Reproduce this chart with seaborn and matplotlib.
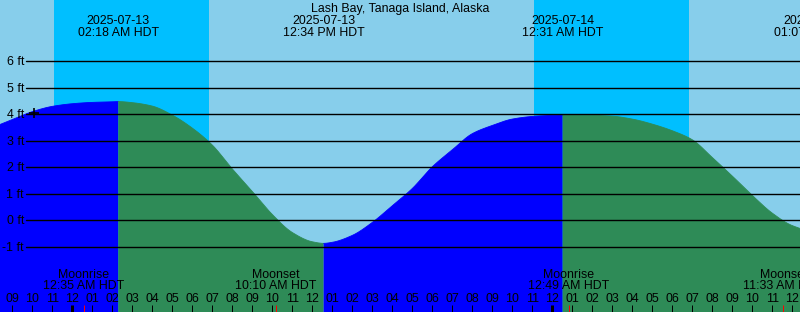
import numpy as np
import pandas as pd
import matplotlib
matplotlib.use("Agg")
import matplotlib.pyplot as plt
import matplotlib.transforms as mtransforms
import seaborn as sns

# ---------------- data (hours from 2025-07-13 00:00 HDT) ----------------
station = "Lash Bay, Tanaga Island, Alaska"

curve_hours = list(range(-4, 38))
curve_heights = [3.50, 3.80, 4.10, 4.30, 4.40, 4.45, 4.47, 4.44, 4.31, 3.97,
                 3.48, 2.84, 1.94, 1.09, 0.22, -0.46, -0.81, -0.83, -0.57, -0.08,
                 0.55, 1.20, 2.02, 2.66, 3.27, 3.58, 3.82, 3.92, 3.96, 3.97,
                 3.96, 3.93, 3.82, 3.63, 3.38, 3.04, 2.37, 1.67, 0.94, 0.27,
                 -0.20, -0.42]

extreme_hours = [2.30, 12.567, 24.517, 37.117]
extreme_heights = [4.48, -0.87, 3.97, -0.43]
extreme_types = ["high", "low", "high", "low"]
extreme_dates = ["2025-07-13", "2025-07-13", "2025-07-14", "2025-07-14"]
extreme_clock = ["02:18 AM HDT", "12:34 PM HDT", "12:31 AM HDT", "01:07 PM HDT"]

moon_hours = [0.583, 10.167, 24.817, 35.55]
moon_events = ["Moonrise", "Moonset", "Moonrise", "Moonset"]
moon_clock = ["12:35 AM HDT", "10:10 AM HDT", "12:49 AM HDT", "11:33 AM HDT"]

night_start = [-0.92, 23.08]
night_end = [6.83, 30.83]

now_hour = -1.92
now_height = 4.04

tick_hours = list(range(-3, 37))
tick_labels = [f"{(h % 12) or 12:02d}" for h in tick_hours]
ft_levels = [-1, 0, 1, 2, 3, 4, 5, 6]

# ---------------- style ----------------
sns.set_theme(style="white")
plt.rcParams["font.family"] = ["Liberation Sans", "DejaVu Sans"]
FS = 8.9

C_DAY = "#87CEEB"
C_NIGHT = "#00BFFF"
C_RISE = "#0000FF"
C_FALL = "#2E8B57"


def smooth_line(x, y, xn):
    """Monotone cubic (PCHIP-style) rendering of the read points."""
    x = np.asarray(x, float)
    y = np.asarray(y, float)
    h = np.diff(x)
    delta = np.diff(y) / h
    n = len(x)
    d = np.zeros(n)
    for k in range(1, n - 1):
        if delta[k - 1] * delta[k] > 0:
            w1 = 2 * h[k] + h[k - 1]
            w2 = h[k] + 2 * h[k - 1]
            d[k] = (w1 + w2) / (w1 / delta[k - 1] + w2 / delta[k])
    d[0] = delta[0]
    d[-1] = delta[-1]
    idx = np.clip(np.searchsorted(x, xn) - 1, 0, n - 2)
    hk = h[idx]
    s = (xn - x[idx]) / hk
    h00 = 2 * s**3 - 3 * s**2 + 1
    h10 = s**3 - 2 * s**2 + s
    h01 = -2 * s**3 + 3 * s**2
    h11 = s**3 - s**2
    return h00 * y[idx] + h10 * hk * d[idx] + h01 * y[idx + 1] + h11 * hk * d[idx + 1]


fig = plt.figure(figsize=(8.0, 3.12), dpi=100)
ax = fig.add_axes([0, 0, 1, 1])
ax.set_facecolor(C_DAY)
ax.set_axisbelow(False)
for s in ax.spines.values():
    s.set_visible(False)

XMIN, XMAX = -3.615, 36.385
YMIN, YMAX = -3.46, 8.313

# night bands
for a, b in zip(night_start, night_end):
    ax.axvspan(a, b, color=C_NIGHT, lw=0, zorder=0)

# read points merged with the listed extremes
pts = pd.DataFrame({"t": curve_hours + extreme_hours,
                    "h": curve_heights + extreme_heights})
pts = pts.sort_values("t").drop_duplicates("t").reset_index(drop=True)

bounds = [pts.t.min()] + extreme_hours
seg_frames = []
seg_colors = []
for i in range(len(bounds) - 1):
    a, b = bounds[i], bounds[i + 1]
    tt = np.linspace(a, b, 300)
    hh = smooth_line(pts.t, pts.h, tt)
    seg = pd.DataFrame({"t": tt, "h": hh, "seg": f"s{i}"})
    color = C_RISE if extreme_types[i] == "high" else C_FALL
    seg_frames.append(seg)
    seg_colors.append(color)
    ax.fill_between(seg.t, seg.h, YMIN - 5, color=color, lw=0, zorder=1)
df = pd.concat(seg_frames, ignore_index=True)
sns.lineplot(data=df, x="t", y="h", hue="seg", palette=seg_colors,
             legend=False, lw=0.6, ax=ax, zorder=1.5, sort=True,
             estimator=None)

# grid lines + labels
ytr = mtransforms.blended_transform_factory(ax.transAxes, ax.transData)
for v in ft_levels:
    ax.axhline(v, xmin=26 / 800, xmax=1, color="black", lw=1.0, zorder=3)
    ax.text(24 / 800, v - 0.14, f"{v} ft", transform=ytr,
            ha="right", va="baseline", fontsize=FS, color="black", zorder=4)

# current marker
ax.plot([now_hour], [now_height], marker="+", color="black", ms=7, mew=1.2,
        zorder=5, ls="none")

bt = mtransforms.blended_transform_factory(ax.transData, ax.transAxes)


def fy(px):
    return (312 - px) / 312


ax.text(0.5, fy(11.7), station, transform=ax.transAxes, ha="center",
        va="baseline", fontsize=FS, color="black")
for t, d, c in zip(extreme_hours, extreme_dates, extreme_clock):
    ax.text(t, fy(24.0), d, transform=bt, ha="center", va="baseline", fontsize=FS, color="black", zorder=4)
    ax.text(t, fy(36.0), c, transform=bt, ha="center", va="baseline", fontsize=FS, color="black", zorder=4)
for t, e, c in zip(moon_hours, moon_events, moon_clock):
    ax.text(t, fy(278.3), e, transform=bt, ha="center", va="baseline", fontsize=FS, color="black", zorder=4)
    ax.text(t, fy(289.3), c, transform=bt, ha="center", va="baseline", fontsize=FS, color="black", zorder=4)

# axis ticks
ax.set_xlim(XMIN, XMAX)
ax.set_ylim(YMIN, YMAX)
ax.set_yticks([])
ax.set_xticks(tick_hours, tick_labels)
ax.set_xticks(moon_hours, minor=True)
ax.tick_params(axis="x", which="major", direction="in", length=5.04, width=0.72,
               color="black", pad=-13.5, labelsize=FS, labelcolor="black",
               bottom=True)
ax.tick_params(axis="x", which="minor", direction="in", length=5.04, width=0.72,
               color="red", bottom=True)
for tk, hr in zip(ax.xaxis.get_major_ticks(), tick_hours):
    if hr % 24 == 0:
        tk.tick1line.set_markeredgewidth(2.16)
ax.set_xlabel("")
ax.set_ylabel("")
ax.grid(False)

fig.savefig("out.png", dpi=100)
